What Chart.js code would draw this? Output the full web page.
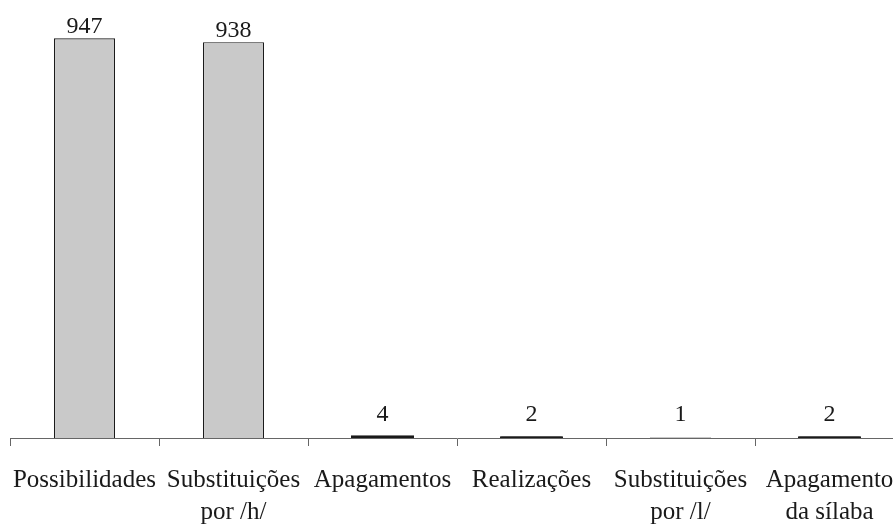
<!DOCTYPE html>
<html>
<head>
<meta charset="utf-8">
<script src="https://cdn.jsdelivr.net/npm/chart.js@4/dist/chart.umd.min.js"></script>
<style>
  html, body { margin: 0; padding: 0; background: #fff; overflow: hidden; }
  #wrap { position: relative; width: 904px; height: 527px; }
</style>
</head>
<body>
<div id="wrap"><canvas id="bars"></canvas></div>
<script>
var categories = [
    'Possibilidades',
    ['Substituições', 'por /h/'],
    'Apagamentos',
    'Realizações',
    ['Substituições', 'por /l/'],
    ['Apagamento', 'da sílaba']
];
var counts = [947, 938, 4, 2, 1, 2];

var serif = '"Liberation Serif", "Times New Roman", serif';

// numbers above each bar (small bars keep their label a bit higher)
var valueLabels = {
    id: 'valueLabels',
    afterDatasetsDraw: function (chart) {
        var ctx = chart.ctx;
        var meta = chart.getDatasetMeta(0);
        ctx.save();
        ctx.font = '24px ' + serif;
        ctx.fillStyle = '#1a1a1a';
        ctx.textAlign = 'center';
        ctx.textBaseline = 'alphabetic';
        meta.data.forEach(function (bar, i) {
            var y = Math.min(bar.y, chart.chartArea.bottom - 12) - 5;
            ctx.fillText(String(counts[i]), bar.x, y);
        });
        ctx.restore();
    }
};

var ctx = document.getElementById('bars').getContext('2d');
var chart = new Chart(ctx, {
    type: 'bar',
    data: {
        labels: categories,
        datasets: [{
            label: 'ocorrências',
            data: counts,
            // tiny bars show up as a dark line, like the border in the original
            backgroundColor: function (c) { return counts[c.dataIndex] < 10 ? '#1a1a1a' : '#c9c9c9'; },
            inflateAmount: function (c) { return counts[c.dataIndex] > 1 && counts[c.dataIndex] < 10 ? 1 : 0; },
            borderColor: '#1a1a1a',
            borderWidth: 1.2,
            barPercentage: 0.41,
            categoryPercentage: 1
        }]
    },
    options: {
        responsive: true,
        maintainAspectRatio: false,
        animation: false,
        layout: {
            padding: { left: 10, right: 0, top: 16, bottom: 0 }
        },
        plugins: {
            legend: { display: false },
            tooltip: { enabled: false }
        },
        scales: {
            y: {
                display: false,
                min: 0,
                max: 1000
            },
            x: {
                offset: true,
                afterFit: function (scale) {
                    scale.height = 89;
                    scale.paddingLeft = 0;
                    scale.paddingRight = 0;
                },
                grid: {
                    offset: true,
                    drawOnChartArea: false,
                    drawTicks: true,
                    tickLength: 8,
                    color: '#666'
                },
                border: { display: true, color: '#666', width: 1 },
                ticks: {
                    color: '#1a1a1a',
                    padding: 18,
                    maxRotation: 0,
                    autoSkip: false,
                    font: { family: serif, size: 25, lineHeight: 1.3 }
                }
            }
        }
    },
    plugins: [valueLabels]
});
</script>
</body>
</html>
